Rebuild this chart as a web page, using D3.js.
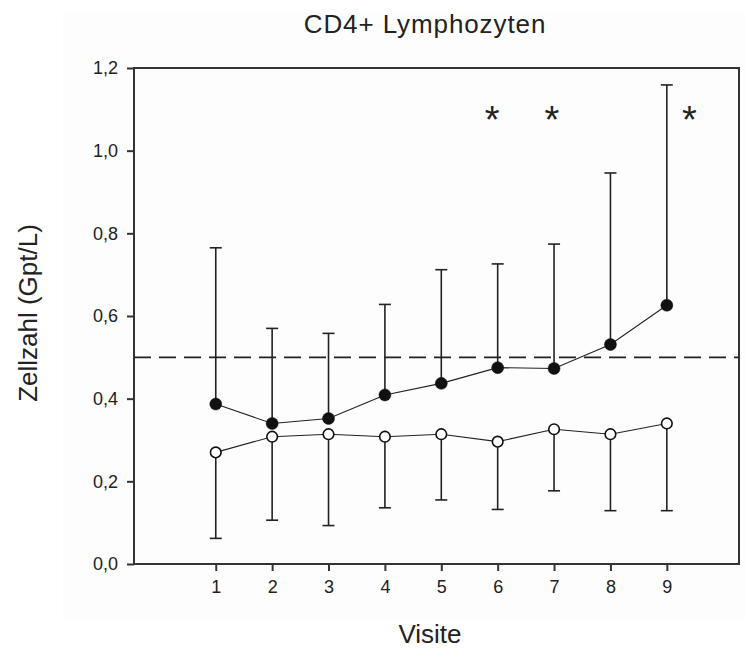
<!DOCTYPE html>
<html>
<head>
<meta charset="utf-8">
<script src="https://cdn.jsdelivr.net/npm/d3@7"></script>
<style>
  body { margin: 0; background: #fff; }
  text { font-family: "Liberation Sans", Arial, sans-serif; fill: #222; }
</style>
</head>
<body>
<div id="chart"></div>
<script>
// values
const visits = [1, 2, 3, 4, 5, 6, 7, 8, 9];
const filledMean = [0.387, 0.340, 0.352, 0.409, 0.437, 0.475, 0.473, 0.531, 0.626];
const filledUpper = [0.765, 0.570, 0.558, 0.628, 0.712, 0.726, 0.774, 0.946, 1.159];
const openMean = [0.270, 0.308, 0.314, 0.308, 0.314, 0.296, 0.326, 0.314, 0.340];
const openLower = [0.062, 0.106, 0.093, 0.136, 0.155, 0.132, 0.177, 0.129, 0.129];
const refLine = 0.5;
const starX = [5.9, 6.96, 9.4];
const starY = 1.09;
const yTicks = [0, 0.2, 0.4, 0.6, 0.8, 1.0, 1.2];

const width = 745, height = 657;
const plotLeft = 134, plotRight = 739, plotTop = 68, plotBottom = 564;

const svg = d3.select("#chart").append("svg")
  .attr("width", width)
  .attr("height", height);

// faint background panel
svg.append("rect")
  .attr("x", 63).attr("y", 13)
  .attr("width", width - 63).attr("height", 607)
  .attr("fill", "#fdfdfd");

const x = d3.scaleLinear().domain([-0.45, 10.28]).range([plotLeft, plotRight]);
const y = d3.scaleLinear().domain([0, 1.2]).range([plotBottom, plotTop]);

const fmt = d => d.toFixed(1).replace(".", ",");

// frame
svg.append("rect")
  .attr("x", plotLeft).attr("y", plotTop)
  .attr("width", plotRight - plotLeft).attr("height", plotBottom - plotTop)
  .attr("fill", "none")
  .attr("stroke", "#333")
  .attr("stroke-width", 2);

const yAxis = svg.append("g")
  .attr("transform", `translate(${plotLeft},0)`)
  .call(d3.axisLeft(y).tickValues(yTicks).tickFormat(fmt).tickSize(7).tickPadding(9));
yAxis.select(".domain").remove();

const xAxis = svg.append("g")
  .attr("transform", `translate(0,${plotBottom})`)
  .call(d3.axisBottom(x).tickValues(visits).tickFormat(d3.format("d")).tickSize(7).tickPadding(9));
xAxis.select(".domain").remove();

svg.selectAll(".tick line").attr("stroke", "#333").attr("stroke-width", 2);
svg.selectAll(".tick text")
  .style("font-family", "'Liberation Sans', Arial, sans-serif")
  .style("font-size", "18px")
  .attr("fill", "#222");

// reference line
svg.append("line")
  .attr("x1", plotLeft).attr("x2", plotRight)
  .attr("y1", y(refLine)).attr("y2", y(refLine))
  .attr("stroke", "#222")
  .attr("stroke-width", 1.6)
  .attr("stroke-dasharray", "17,8");

const cap = 6;
function errorBars(means, ends) {
  const g = svg.append("g").attr("stroke", "#222").attr("stroke-width", 1.6);
  g.selectAll("line.v")
    .data(visits)
    .join("line")
    .attr("class", "v")
    .attr("x1", (d) => x(d)).attr("x2", (d) => x(d))
    .attr("y1", (d, i) => y(means[i])).attr("y2", (d, i) => y(ends[i]));
  g.selectAll("line.c")
    .data(visits)
    .join("line")
    .attr("class", "c")
    .attr("x1", (d) => x(d) - cap).attr("x2", (d) => x(d) + cap)
    .attr("y1", (d, i) => y(ends[i])).attr("y2", (d, i) => y(ends[i]));
}
errorBars(filledMean, filledUpper);
errorBars(openMean, openLower);

const line = d3.line().x((d) => x(d[0])).y((d) => y(d[1]));

function series(means, fill) {
  const pts = visits.map((v, i) => [v, means[i]]);
  svg.append("path")
    .datum(pts)
    .attr("d", line)
    .attr("fill", "none")
    .attr("stroke", "#222")
    .attr("stroke-width", 1.1);
  svg.append("g")
    .selectAll("circle")
    .data(pts)
    .join("circle")
    .attr("cx", (d) => x(d[0]))
    .attr("cy", (d) => y(d[1]))
    .attr("r", fill ? 6 : 5.3)
    .attr("fill", fill ? "#111" : "#fff")
    .attr("stroke", "#111")
    .attr("stroke-width", fill ? 0.5 : 1.6);
}
series(openMean, false);
series(filledMean, true);

// significance marks
svg.append("g")
  .selectAll("text")
  .data(starX)
  .join("text")
  .attr("x", (d) => x(d))
  .attr("y", y(starY))
  .attr("dy", "0.52em")
  .attr("text-anchor", "middle")
  .style("font-size", "38px")
  .text("*");

// titles
svg.append("text")
  .attr("x", 425).attr("y", 33)
  .attr("text-anchor", "middle")
  .style("font-size", "26px")
  .style("letter-spacing", "0.9px")
  .text("CD4+ Lymphozyten");

svg.append("text")
  .attr("x", 430).attr("y", 643)
  .attr("text-anchor", "middle")
  .style("font-size", "26px")
  .text("Visite");

svg.append("text")
  .attr("transform", "translate(37,313) rotate(-90)")
  .attr("text-anchor", "middle")
  .style("font-size", "26px")
  .text("Zellzahl (Gpt/L)");
</script>
</body>
</html>
